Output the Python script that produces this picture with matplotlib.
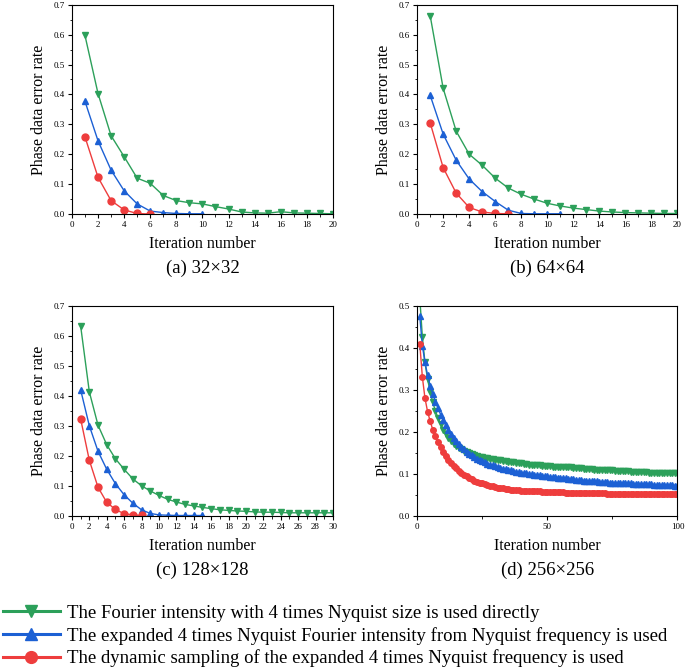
import matplotlib
matplotlib.use("Agg")
import matplotlib.pyplot as plt
from matplotlib.lines import Line2D
from matplotlib.ticker import MultipleLocator

plt.rcParams["font.family"] = ["Liberation Serif", "DejaVu Serif"]

GREEN = "#2ca05a"
BLUE = "#1c60d4"
RED = "#ee3d3d"

LEGEND_LABELS = [
    "The Fourier intensity with 4 times Nyquist size is used directly",
    "The expanded 4 times Nyquist Fourier intensity from Nyquist frequency is used",
    "The dynamic sampling of the expanded 4 times Nyquist frequency is used",
]

# (a) 32x32
a_green = [0.597, 0.403, 0.262, 0.192, 0.120, 0.103, 0.062, 0.045, 0.038, 0.034,
           0.025, 0.017, 0.007, 0.004, 0.003, 0.008, 0.004, 0.003, 0.002, 0.001]
a_blue = [0.377, 0.245, 0.147, 0.078, 0.034, 0.010, 0.005, 0.002, 0.001, 0.001]
a_red = [0.258, 0.123, 0.045, 0.014, 0.002, 0.000]

# (b) 64x64
b_green = [0.663, 0.420, 0.277, 0.200, 0.163, 0.120, 0.087, 0.066, 0.050, 0.036,
           0.027, 0.020, 0.015, 0.010, 0.007, 0.005, 0.004, 0.003, 0.002, 0.002]
b_blue = [0.397, 0.267, 0.180, 0.117, 0.075, 0.042, 0.013, 0.002, 0.001, 0.001, 0.001]
b_red = [0.305, 0.155, 0.070, 0.022, 0.007, 0.002, 0.001]

# (c) 128x128
c_green = [0.633, 0.413, 0.302, 0.237, 0.190, 0.155, 0.123, 0.100, 0.083, 0.068,
           0.055, 0.046, 0.038, 0.033, 0.028, 0.024, 0.020, 0.018, 0.016, 0.015,
           0.013, 0.012, 0.012, 0.011, 0.010, 0.010, 0.010, 0.010, 0.010, 0.010]
c_blue = [0.420, 0.300, 0.215, 0.155, 0.107, 0.070, 0.042, 0.020, 0.008, 0.003,
          0.002, 0.001, 0.001, 0.001, 0.001]
c_red = [0.323, 0.185, 0.095, 0.045, 0.021, 0.007, 0.003, 0.001]

# (d) 256x256
d_green = [0.520, 0.425, 0.365, 0.325, 0.295, 0.270, 0.250, 0.233, 0.218, 0.205,
           0.195, 0.186, 0.178, 0.172, 0.166, 0.162, 0.158, 0.155, 0.152, 0.149,
           0.147, 0.145, 0.143, 0.141, 0.139, 0.138, 0.137, 0.136, 0.135, 0.134,
           0.133, 0.132, 0.131, 0.130, 0.129, 0.128, 0.127, 0.126, 0.126, 0.125,
           0.124, 0.123, 0.122, 0.122, 0.121, 0.120, 0.120, 0.119, 0.119, 0.118,
           0.118, 0.117, 0.117, 0.116, 0.116, 0.116, 0.115, 0.115, 0.115, 0.114,
           0.114, 0.113, 0.113, 0.112, 0.112, 0.111, 0.111, 0.110, 0.110, 0.110,
           0.109, 0.109, 0.108, 0.108, 0.108, 0.107, 0.107, 0.107, 0.106, 0.106,
           0.106, 0.105, 0.105, 0.105, 0.104, 0.104, 0.104, 0.104, 0.103, 0.103,
           0.103, 0.103, 0.102, 0.102, 0.102, 0.102, 0.102, 0.101, 0.101, 0.101]
d_blue = [0.475, 0.405, 0.365, 0.335, 0.310, 0.290, 0.272, 0.256, 0.241, 0.228,
          0.215, 0.204, 0.194, 0.185, 0.177, 0.170, 0.164, 0.158, 0.153, 0.148,
          0.144, 0.140, 0.136, 0.133, 0.130, 0.127, 0.124, 0.122, 0.120, 0.118,
          0.116, 0.114, 0.112, 0.111, 0.109, 0.108, 0.106, 0.105, 0.104, 0.103,
          0.102, 0.101, 0.100, 0.099, 0.098, 0.097, 0.096, 0.095, 0.095, 0.094,
          0.093, 0.092, 0.092, 0.091, 0.090, 0.090, 0.089, 0.088, 0.088, 0.087,
          0.086, 0.086, 0.085, 0.084, 0.084, 0.083, 0.083, 0.082, 0.082, 0.081,
          0.081, 0.080, 0.080, 0.079, 0.079, 0.079, 0.078, 0.078, 0.078, 0.077,
          0.077, 0.077, 0.076, 0.076, 0.076, 0.076, 0.075, 0.075, 0.075, 0.075,
          0.074, 0.074, 0.074, 0.074, 0.073, 0.073, 0.073, 0.073, 0.072, 0.072]
d_red = [0.410, 0.330, 0.280, 0.248, 0.225, 0.205, 0.190, 0.176, 0.164, 0.153,
         0.143, 0.134, 0.126, 0.119, 0.113, 0.107, 0.102, 0.098, 0.094, 0.090,
         0.087, 0.084, 0.081, 0.079, 0.077, 0.075, 0.073, 0.071, 0.070, 0.068,
         0.067, 0.066, 0.065, 0.064, 0.063, 0.062, 0.062, 0.061, 0.061, 0.060,
         0.060, 0.059, 0.059, 0.059, 0.058, 0.058, 0.058, 0.057, 0.057, 0.057,
         0.057, 0.056, 0.056, 0.056, 0.056, 0.056, 0.055, 0.055, 0.055, 0.055,
         0.055, 0.055, 0.054, 0.054, 0.054, 0.054, 0.054, 0.054, 0.054, 0.054,
         0.054, 0.054, 0.053, 0.053, 0.053, 0.053, 0.053, 0.053, 0.053, 0.053,
         0.053, 0.053, 0.053, 0.053, 0.053, 0.053, 0.053, 0.053, 0.053, 0.053,
         0.053, 0.053, 0.053, 0.053, 0.053, 0.053, 0.053, 0.053, 0.053, 0.053]

PANELS = [
    # (data, xmax, xmajor, ymax, caption, marker size)
    ((a_green, a_blue, a_red), 20, 2, 0.7, "(a) 32×32", 5),
    ((b_green, b_blue, b_red), 20, 2, 0.7, "(b) 64×64", 5),
    ((c_green, c_blue, c_red), 30, 2, 0.7, "(c) 128×128", 5),
    ((d_green, d_blue, d_red), 100, 50, 0.5, "(d) 256×256", 4),
]
POSITIONS = [
    [0.105, 0.680, 0.381, 0.313],
    [0.609, 0.680, 0.380, 0.313],
    [0.105, 0.229, 0.381, 0.314],
    [0.609, 0.229, 0.380, 0.314],
]

fig = plt.figure(figsize=(6.85, 6.69), dpi=100)

for (series, xmax, xmajor, ymax, caption, ms), pos in zip(PANELS, POSITIONS):
    ax = fig.add_axes(pos)
    for vals, col, mk in zip(series, (GREEN, BLUE, RED), ("v", "^", "o")):
        x = list(range(1, len(vals) + 1))
        ax.plot(x, vals, color=col, marker=mk, ms=ms, lw=1)
    ax.set_xlim(0, xmax)
    ax.set_ylim(0, ymax)
    ax.xaxis.set_major_locator(MultipleLocator(xmajor))
    ax.xaxis.set_minor_locator(MultipleLocator(xmajor / 2))
    ax.yaxis.set_major_locator(MultipleLocator(0.1))
    ax.yaxis.set_minor_locator(MultipleLocator(0.05))
    ax.yaxis.set_major_formatter(plt.FormatStrFormatter("%.1f"))
    ax.tick_params(which="major", direction="out", length=3, width=0.8,
                   labelsize=6.5, pad=2)
    ax.tick_params(which="minor", direction="out", length=1.8, width=0.6)
    for sp in ax.spines.values():
        sp.set_linewidth(0.8)
    ax.set_ylabel("Phase data error rate", fontsize=11.5, labelpad=5)
    ax.set_xlabel("Iteration number", fontsize=11.5, labelpad=5)
    ax.text(0.5, -0.258, caption, transform=ax.transAxes, ha="center",
            va="center", fontsize=13.5)

handles = [
    Line2D([], [], color=GREEN, marker="v", lw=2.2, ms=9),
    Line2D([], [], color=BLUE, marker="^", lw=2.2, ms=9),
    Line2D([], [], color=RED, marker="o", lw=2.2, ms=8.5),
]
fig.legend(handles, LEGEND_LABELS, loc="upper left",
           bbox_to_anchor=(-0.007, 0.107), frameon=False, fontsize=13.5,
           handlelength=3.05, handletextpad=0.37, labelspacing=0.25,
           borderaxespad=0)

fig.savefig("out.png", dpi=100)
